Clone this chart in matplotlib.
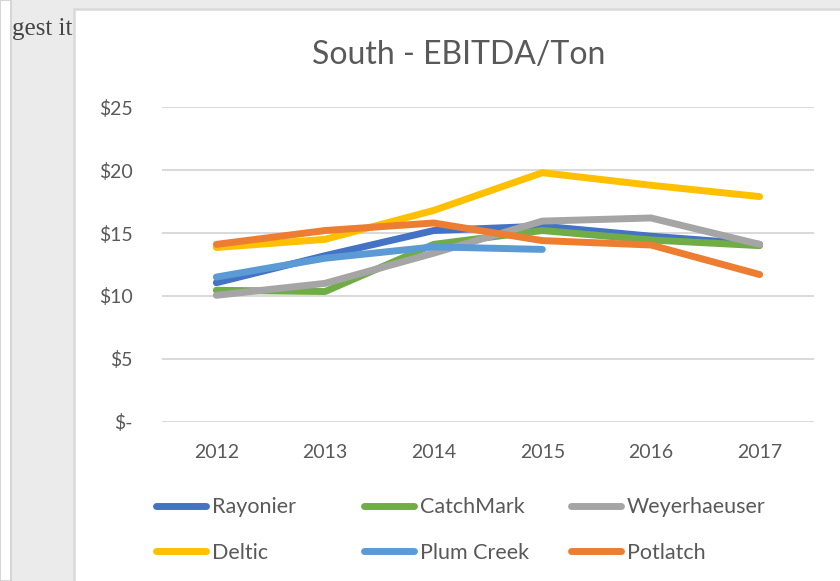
import numpy as np
import matplotlib
matplotlib.use("Agg")
import matplotlib.pyplot as plt
from matplotlib.patches import Rectangle

# data
years = ["2012", "2013", "2014", "2015", "2016", "2017"]
rayonier = [11.05, 13.2, 15.2, 15.55, 14.75, 14.1]
catchmark = [10.45, 10.35, 14.1, 15.2, 14.45, 14.0]
weyerhaeuser = [10.05, 11.0, 13.4, 15.95, 16.2, 14.1]
deltic = [13.85, 14.5, 16.8, 19.8, 18.8, 17.9]
plum_creek = [11.5, 13.0, 13.9, 13.7, np.nan, np.nan]
potlatch = [14.1, 15.2, 15.8, 14.4, 14.05, 11.7]

series = ["Rayonier", "CatchMark", "Weyerhaeuser", "Deltic", "Plum Creek", "Potlatch"]
colors = ["#4472C4", "#70AD47", "#A5A5A5", "#FFC000", "#5B9BD5", "#ED7D31"]
yticks = [0, 5, 10, 15, 20, 25]
ytick_labels = ["$-", "$5", "$10", "$15", "$20", "$25"]
title = "South - EBITDA/Ton"

W, H = 840, 581
font = "Lato"
txt = "#595959"

fig = plt.figure(figsize=(W / 100, H / 100), dpi=100, facecolor="#ebebeb")

# page background bits from the screenshot
fig.text(12 / W, 1 - 35 / H, "gest it", family=["Liberation Serif", "DejaVu Serif"],
         fontsize=18, color="#444444", va="baseline", zorder=1)
fig.patches.append(Rectangle((0, 0), 11 / W, 1, transform=fig.transFigure,
                             facecolor="white", edgecolor="#d6d6d6", lw=1.5, zorder=2))
fig.patches.append(Rectangle((74 / W, -0.05), 1, 1 - 9 / H + 0.05, transform=fig.transFigure,
                             facecolor="white", edgecolor="#d9d9d9", lw=1.8, zorder=2))

ax = fig.add_axes([162 / W, 1 - 421.7 / H, (814 - 162) / W, (421.7 - 107.3) / H])
ax.set_zorder(3)
ax.patch.set_alpha(0)

x = np.arange(len(years))
data = [rayonier, catchmark, weyerhaeuser, deltic, plum_creek, potlatch]
handles = []
for name, vals, c in zip(series, data, colors):
    ln, = ax.plot(x, vals, color=c, lw=5, label=name,
                  solid_capstyle="round", solid_joinstyle="round")
    handles.append(ln)

ax.set_xlim(-0.5, len(years) - 0.5)
ax.set_ylim(0, 25)
ax.set_xticks(x)
ax.set_xticklabels(years)
ax.set_yticks(yticks)
ax.set_yticklabels(ytick_labels)
ax.grid(axis="y", color="#d9d9d9", lw=1.4)
ax.set_axisbelow(True)
for s in ax.spines.values():
    s.set_visible(False)
ax.tick_params(length=0, labelsize=14, labelcolor=txt)
ax.tick_params(axis="x", pad=16)
ax.tick_params(axis="y", pad=21)
for lab in ax.get_xticklabels() + ax.get_yticklabels():
    lab.set_family(font)

fig.text(459 / W, 1 - 55 / H, title, ha="center", va="center",
         fontsize=23, color=txt, family=font, zorder=4)

# legend: Excel lays out 3 fixed-width columns, row by row
col_left = [156, 364, 571]
for j, xl in enumerate(col_left):
    hs = [handles[j], handles[j + 3]]
    leg = fig.legend(hs, [h.get_label() for h in hs], loc="center left",
                     bbox_to_anchor=(xl / W, 1 - 530 / H), frameon=False,
                     prop={"family": font, "size": 15.5}, borderpad=0,
                     borderaxespad=0, handlelength=2.33, handletextpad=0.25,
                     labelspacing=1.19)
    for t in leg.get_texts():
        t.set_color(txt)
    for h in leg.get_lines():
        h.set_linewidth(5)
        h.set_solid_capstyle("round")
    leg.set_zorder(4)

fig.savefig("out.png", dpi=100, facecolor=fig.get_facecolor())
